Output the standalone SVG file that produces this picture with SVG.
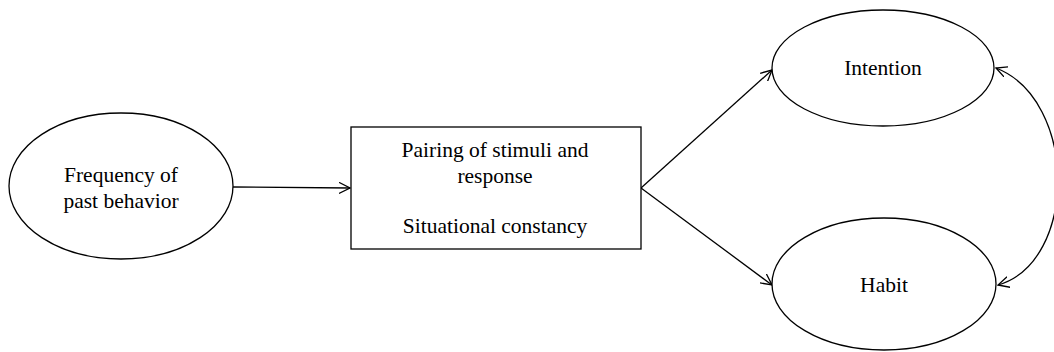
<svg xmlns="http://www.w3.org/2000/svg" width="1054" height="352" viewBox="0 0 1054 352">
<style>
.shape{fill:#fff;stroke:#000;stroke-width:1.3}
.lbl{font-family:"Liberation Serif","Times New Roman",serif;font-size:21.5px;fill:#000;text-anchor:middle}
.conn{fill:none;stroke:#000;stroke-width:1.3}
</style>
<defs>
<marker id="arr" viewBox="0 0 12 12" refX="11" refY="6" markerWidth="12" markerHeight="12" markerUnits="userSpaceOnUse" orient="auto-start-reverse">
<path d="M0,0.5 L11,6 L0,11.5" fill="none" stroke="#000" stroke-width="1.3"/>
</marker>
</defs>
<rect width="1054" height="352" fill="#fff"/>
<g id="connectors">
<line class="conn" x1="233" y1="187" x2="350" y2="188" marker-end="url(#arr)"/>
<line class="conn" x1="641" y1="188" x2="772" y2="70" marker-end="url(#arr)"/>
<line class="conn" x1="641" y1="188" x2="772" y2="285" marker-end="url(#arr)"/>
<path class="conn" d="M996,68 C1078,100 1078,262 998,285" marker-start="url(#arr)" marker-end="url(#arr)"/>
</g>
<g id="frequency">
<ellipse class="shape" cx="121" cy="186" rx="112" ry="73"/>
<text class="lbl" x="121" y="182">Frequency of</text>
<text class="lbl" x="121" y="208">past behavior</text>
</g>
<g id="pairing">
<rect class="shape" x="351" y="127" width="290" height="122"/>
<text class="lbl" x="495" y="157">Pairing of stimuli and</text>
<text class="lbl" x="495" y="183">response</text>
<text class="lbl" x="495" y="233">Situational constancy</text>
</g>
<g id="intention">
<ellipse class="shape" cx="883" cy="68" rx="111" ry="58"/>
<text class="lbl" x="883" y="75">Intention</text>
</g>
<g id="habit">
<ellipse class="shape" cx="884" cy="284" rx="112" ry="66"/>
<text class="lbl" x="884" y="292">Habit</text>
</g>
</svg>
